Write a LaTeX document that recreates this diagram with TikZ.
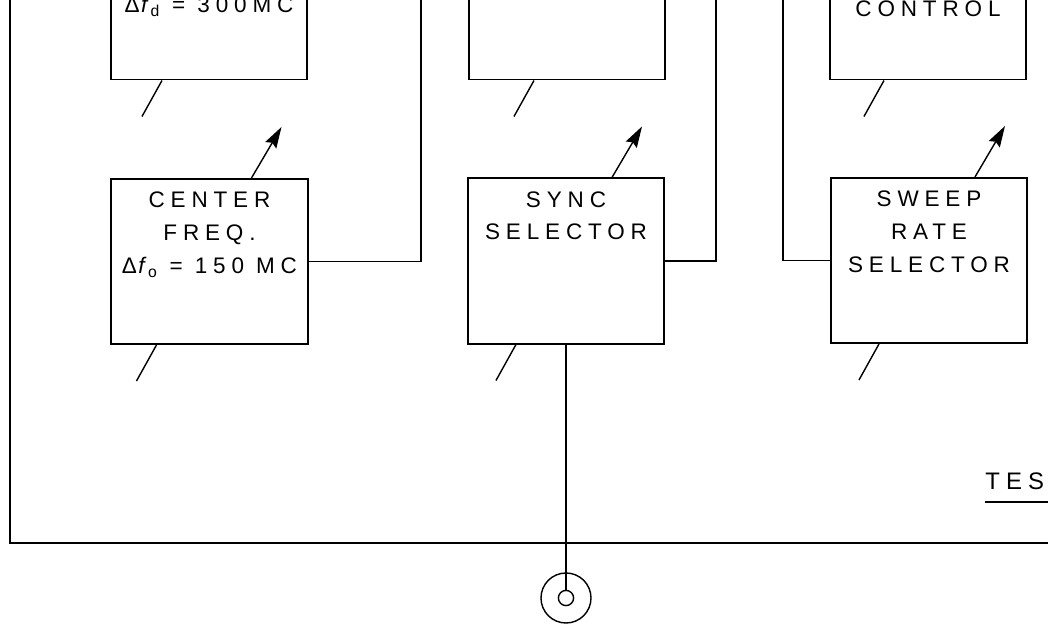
\documentclass[tikz,border=0pt]{standalone}
\usepackage{fontspec}
\setmainfont{Liberation Sans}
\newfontfamily\lettering[LetterSpace=26]{Liberation Sans}
\usetikzlibrary{arrows.meta,positioning}
\tikzset{
unit/.style={draw,line width=1.4pt,minimum width=4.9cm,minimum height=4.125cm,inner sep=0pt},
legend/.style={font=\lettering\fontsize{16}{23.4}\selectfont,align=center,inner sep=0pt},
wire/.style={line width=1pt},
knob/.style={line width=1pt,-{Stealth[length=15pt,width=9pt,inset=2pt]}},
jack/.style={draw,circle,line width=1pt,inner sep=0pt}
}
\newcommand\dfreq[1]{{\normalfont Δ\kern1pt\textit{f}\kern1pt\textsubscript{#1}}}
\begin{document}
\begin{tikzpicture}[x=0.025cm,y=-0.025cm]
\useasboundingbox(0,0)rectangle(1048,628);
\clip(0,0)rectangle(1048,628);
\node[unit](dev)at(209,-3){};
\node[unit](mid)at(567,-3){};
\node[unit](ctl)at(928,-3){};
\node[unit](cf)at(209.5,261.5){};
\node[unit](sync)at(566,261){};
\node[unit](rate)at(929,260.5){};
\node[legend,anchor=base](devt)at(209,13){\dfreq{d} = 300MC};
\node[legend,anchor=base](ctlt)at(928,17){CONTROL};
\node[legend,below=0.34cm of cf.north](cft){CENTER\\FREQ.\\\dfreq{o} = 150 MC};
\node[legend,below=0.34cm of sync.north](synct){SYNC\\SELECTOR};
\node[legend,below=0.34cm of rate.north](ratet){SWEEP\\RATE\\SELECTOR};
\node[jack,minimum size=1.25cm](jout)at(566,598){};
\node[jack,minimum size=0.38cm](jin)at(566,598){};
\coordinate(cfend)at(421,-5);
\coordinate(syncend)at(716,-5);
\coordinate(rateend)at(783,-5);
\draw[wire](cf.east)-|(cfend);
\draw[wire](sync.east)-|(syncend);
\draw[wire](rate.west)-|(rateend);
\draw[wire](sync.south)--(jin.north);
\draw[line width=1.2pt](10,-5)--(10,543)--(1055,543);
\foreach \b/\d in {dev/52,mid/66,ctl/55,cf/46,sync/49,rate/49}
\draw[wire](\b.south west)++(\d,0)--++(-20,36);
\foreach \b/\d in {cf/141,sync/145,rate/145}
\draw[knob](\b.north west)++(\d,0)--++(30,-51);
\node[font=\lettering\fontsize{17}{20}\selectfont,anchor=base west,inner sep=0pt](tes)at(985,490){TES};
\draw[wire](tes.base west)++(0,12)--++(80,0);
\end{tikzpicture}
\end{document}
